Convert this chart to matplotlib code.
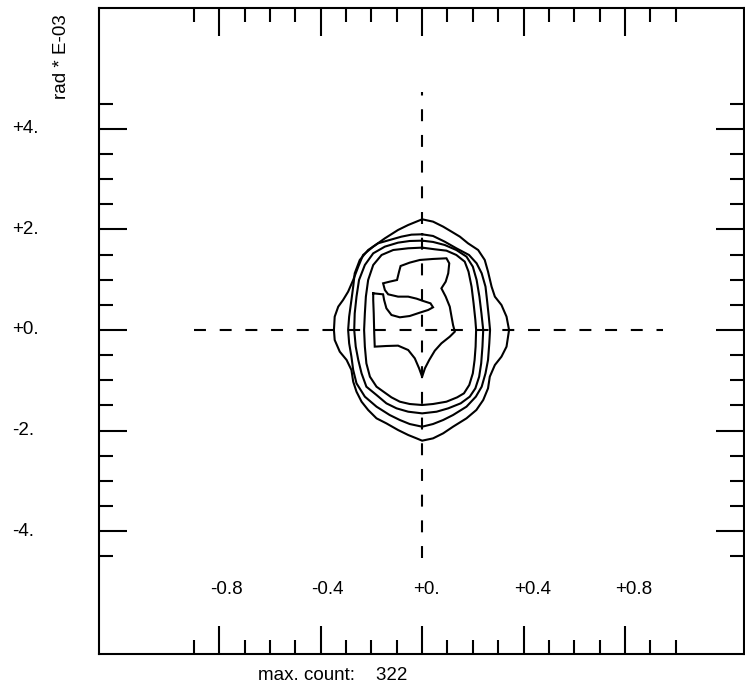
import numpy as np
import matplotlib
matplotlib.use("Agg")
import matplotlib.pyplot as plt
import matplotlib.transforms as mtransforms

plt.rcParams['font.family'] = ['Liberation Sans', 'DejaVu Sans']
plt.rcParams['lines.scale_dashes'] = False

# ---------------- data ----------------
x_major = [-0.8, -0.4, 0.0, 0.4, 0.8]
x_major_labels = ['-0.8', '-0.4', '+0.', '+0.4', '+0.8']
x_minor = [-0.9, -0.7, -0.6, -0.5, -0.3, -0.2, -0.1, 0.1, 0.2, 0.3,
           0.5, 0.6, 0.7, 0.9, 1.0]
y_major = [4, 2, 0, -2, -4]
y_major_labels = ['+4.', '+2.', '+0.', '-2.', '-4.']
y_minor = [4.5, 3.5, 3, 2.5, 1.5, 1, 0.5, -0.5, -1, -1.5, -2.5, -3, -3.5, -4.5]

y_title = 'rad * E-03'
max_count = 322

# reference cross (dashed)
hline_x = [-0.9, 0.95]
vline_y = [-4.53, 4.73]

# contour levels (outer -> inner)
c1_x = [0, 0.043, 0.083, 0.116, 0.149, 0.181, 0.221, 0.247, 0.260, 0.274, 0.287, 0.313,
        0.333, 0.343, 0.333, 0.313, 0.287, 0.267, 0.260, 0.241, 0.214, 0.175, 0.122, 0.083,
        0.043, 0, -0.022, -0.055, -0.095, -0.141, -0.180, -0.213, -0.239, -0.259, -0.272,
        -0.279, -0.298, -0.325, -0.345, -0.348, -0.345, -0.331, -0.312, -0.292, -0.272,
        -0.252, -0.233, -0.193, -0.147, -0.095, -0.055]
c1_y = [2.200, 2.154, 2.054, 1.955, 1.855, 1.723, 1.590, 1.392, 1.160, 0.862, 0.663, 0.497,
        0.265, 0, -0.331, -0.530, -0.696, -0.928, -1.160, -1.392, -1.590, -1.756, -1.922,
        -2.054, -2.154, -2.200, -2.154, -2.087, -1.988, -1.856, -1.756, -1.590, -1.425,
        -1.226, -1.027, -0.795, -0.596, -0.431, -0.199, 0, 0.265, 0.464, 0.596, 0.762,
        0.994, 1.259, 1.491, 1.657, 1.822, 1.988, 2.087]

c2_x = [0, 0.043, 0.089, 0.135, 0.185, 0.215, 0.235, 0.250, 0.256, 0.263, 0.268, 0.265,
        0.260, 0.250, 0.235, 0.212, 0.175, 0.122, 0.083, 0.043, 0, -0.049, -0.088, -0.128,
        -0.180, -0.226, -0.259, -0.272, -0.279, -0.288, -0.292, -0.288, -0.279, -0.272,
        -0.266, -0.246, -0.213, -0.174, -0.128, -0.082, -0.042]
c2_y = [1.902, 1.869, 1.756, 1.624, 1.491, 1.325, 1.127, 0.862, 0.596, 0.265, 0, -0.265,
        -0.596, -0.862, -1.127, -1.325, -1.524, -1.690, -1.789, -1.869, -1.922, -1.869,
        -1.789, -1.690, -1.524, -1.325, -1.060, -0.795, -0.530, -0.265, 0, 0.265, 0.596,
        0.862, 1.127, 1.392, 1.590, 1.723, 1.789, 1.855, 1.895]

c3_x = [0, 0.043, 0.089, 0.135, 0.175, 0.200, 0.215, 0.226, 0.234, 0.241, 0.238, 0.233,
        0.225, 0.210, 0.188, 0.152, 0.103, 0.057, 0, -0.055, -0.101, -0.141, -0.180, -0.220,
        -0.239, -0.252, -0.262, -0.268, -0.266, -0.259, -0.249, -0.226, -0.193, -0.147,
        -0.095, -0.049]
c3_y = [1.776, 1.750, 1.690, 1.590, 1.458, 1.259, 0.994, 0.663, 0.331, 0, -0.331, -0.663,
        -0.928, -1.160, -1.325, -1.458, -1.557, -1.624, -1.657, -1.624, -1.557, -1.458,
        -1.292, -1.127, -0.862, -0.596, -0.331, 0, 0.331, 0.663, 0.994, 1.292, 1.524,
        1.657, 1.736, 1.769]

c4_x = [0, 0.050, 0.096, 0.135, 0.168, 0.183, 0.195, 0.203, 0.210, 0.213, 0.211, 0.207,
        0.200, 0.186, 0.165, 0.138, 0.096, 0.043, 0, -0.049, -0.088, -0.121, -0.147, -0.180,
        -0.206, -0.220, -0.226, -0.229, -0.226, -0.222, -0.213, -0.193, -0.160, -0.114,
        -0.055]
c4_y = [1.637, 1.604, 1.577, 1.491, 1.359, 1.160, 0.862, 0.530, 0.199, 0, -0.331, -0.596,
        -0.862, -1.093, -1.259, -1.339, -1.425, -1.471, -1.491, -1.471, -1.425, -1.339,
        -1.246, -1.127, -0.928, -0.663, -0.331, 0, 0.331, 0.663, 0.994, 1.292, 1.491,
        1.590, 1.624]

c5_x = [-0.193, -0.154, -0.150, -0.141, -0.121, -0.088, -0.049, -0.009, 0.024, 0.043,
        0.033, 0.004, -0.022, -0.055, -0.095, -0.134, -0.147, -0.154, -0.128, -0.099,
        -0.091, -0.085, -0.049, -0.009, 0.043, 0.096, 0.107, 0.103, 0.093, 0.076, 0.093,
        0.109, 0.116, 0.122, 0.129, 0.109, 0.076, 0.050, 0.028, 0.011, 0, -0.012, -0.029,
        -0.055, -0.095, -0.141, -0.187, -0.189, -0.191, -0.193]
c5_y = [0.729, 0.709, 0.596, 0.431, 0.298, 0.252, 0.278, 0.345, 0.398, 0.451, 0.530, 0.577,
        0.623, 0.663, 0.663, 0.709, 0.795, 0.928, 0.961, 0.994, 1.160, 1.272, 1.339, 1.392,
        1.412, 1.425, 1.325, 1.127, 0.961, 0.828, 0.663, 0.464, 0.265, 0.099, -0.033,
        -0.133, -0.265, -0.411, -0.596, -0.762, -0.928, -0.762, -0.563, -0.398, -0.311,
        -0.318, -0.331, -0.066, 0.331, 0.596]

contours = [(c1_x, c1_y), (c2_x, c2_y), (c3_x, c3_y), (c4_x, c4_y), (c5_x, c5_y)]

# ---------------- figure ----------------
W, H = 745, 691
fig = plt.figure(figsize=(W / 100, H / 100), dpi=100)
ax = fig.add_axes([99 / W, 1 - 654 / H, (744 - 99) / W, (654 - 8) / H])
ax.set_xlim(-1.275, 1.27)
ax.set_ylim(-6.44, 6.40)

for sp in ax.spines.values():
    sp.set_linewidth(1.5)
    sp.set_color('black')

ax.set_xticks(x_major)
ax.set_xticks(x_minor, minor=True)
ax.set_yticks(y_major)
ax.set_yticks(y_minor, minor=True)
ax.tick_params(which='both', direction='in', top=True, right=True, bottom=True, left=True,
               labelbottom=False, labelleft=False, width=1.5, color='black')
ax.tick_params(which='major', length=20)
ax.tick_params(which='minor', length=10)

fs = 13.5
shift = mtransforms.ScaledTranslation(-9.5 / 100, 0, fig.dpi_scale_trans)
bt = mtransforms.blended_transform_factory(ax.transData, fig.transFigure) + shift
for xv, lab in zip(x_major, x_major_labels):
    ax.text(xv, 1 - 590 / H, lab, transform=bt, ha='left', va='center', fontsize=fs)
lt = mtransforms.blended_transform_factory(fig.transFigure, ax.transData)
for yv, lab in zip(y_major, y_major_labels):
    ax.text(12 / W, yv, lab, transform=lt, ha='left', va='center', fontsize=fs)

fig.text(62 / W, 1 - 57 / H, y_title, rotation=90, ha='center', va='center', fontsize=fs)
fig.text(258 / W, 1 - 676 / H, 'max. count:    %d' % max_count, ha='left', va='center',
         fontsize=fs)

dash = (0, (8.6, 9.9))
ax.plot(hline_x, [0, 0], color='black', lw=1.5, ls=dash)
ax.plot([0, 0], vline_y, color='black', lw=1.5, ls=dash)

for cx, cy in contours:
    xs = list(cx) + [cx[0]]
    ys = list(cy) + [cy[0]]
    ax.plot(xs, ys, color='black', lw=1.5, solid_joinstyle='miter')

fig.savefig('out.png', dpi=100)
